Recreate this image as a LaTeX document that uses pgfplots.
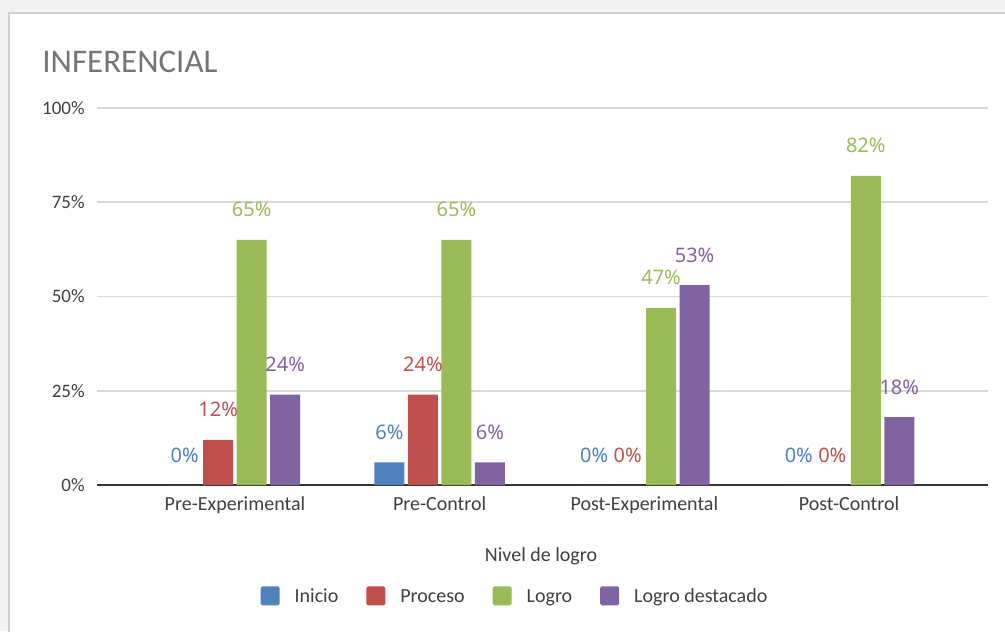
\documentclass[border=0pt]{standalone}
\usepackage{fontspec}
\setmainfont{Carlito}
\newfontfamily\lblfont{Noto Sans}
\usepackage{pgfplots}
\usepackage{pgfplotstable}
\pgfplotsset{compat=1.18}
\definecolor{cInicio}{HTML}{4F81BD}
\definecolor{cProceso}{HTML}{C0504D}
\definecolor{cLogro}{HTML}{9BBB59}
\definecolor{cDest}{HTML}{8064A2}
\definecolor{gridc}{HTML}{D9D9D9}
\definecolor{axisc}{HTML}{333333}
\definecolor{txt}{HTML}{404040}
\definecolor{ttl}{HTML}{757575}
\definecolor{bgc}{HTML}{F2F2F2}
\definecolor{border}{HTML}{D0D0D0}

\pgfplotstableread{
g inicio proceso logro destacado
0 0 12 65 24
1 6 24 65 6
2 0 0 47 53
3 0 0 82 18
}\datatable

\pgfplotsset{sqlegend/.style={legend image code/.code={\fill[##1,/tikz/.cd,draw=none,rounded corners=0.8pt] (0pt,-1.55pt) rectangle (9.5pt,7.95pt);}}}

\begin{document}
\begin{tikzpicture}
\useasboundingbox (0pt,0pt) rectangle (502.5pt,315.5pt);
\fill[bgc] (0pt,0pt) rectangle (502.5pt,315.5pt);
\filldraw[fill=white, draw=border, line width=1pt] (4.5pt,-5pt) rectangle (510pt,309pt);
\node[anchor=base west, inner sep=0pt, font=\fontsize{16.5}{19}\selectfont, text=ttl] at (21pt,279pt) {INFERENCIAL};
\begin{axis}[
  at={(48.5pt,73pt)}, anchor=south west,
  scale only axis, width=445.5pt, height=188.5pt,
  ybar=1.75pt, bar width=15pt,
  xmin=-0.674, xmax=3.679, ymin=0, ymax=100,
  axis x line=bottom, axis y line=left,
  x axis line style={-, draw=axisc, line width=0.8pt},
  y axis line style={draw=none},
  major tick length=0pt,
  xtick={0,1,2,3},
  xticklabels={Pre-Experimental,Pre-Control,Post-Experimental,Post-Control},
  ytick={0,25,50,75,100},
  yticklabels={0\%,25\%,50\%,75\%,100\%},
  ymajorgrids,
  major grid style={draw=gridc, line width=0.9pt},
  xticklabel style={font=\fontsize{10}{12}\selectfont, text=txt, anchor=base, inner sep=0pt, yshift=-12.5pt},
  yticklabel style={font=\fontsize{9.5}{11}\selectfont, text=txt, anchor=east, inner sep=0pt, xshift=-6pt},
  xlabel={Nivel de logro},
  xlabel style={at={(axis description cs:0.4983,0)}, anchor=base, inner sep=0pt, yshift=-38pt, font=\fontsize{10}{12}\selectfont, text=txt},
  clip=false,
  nodes near coords={\pgfmathprintnumber[assume math mode=true,fixed,precision=0]{\pgfplotspointmeta}\%},
  every node near coord/.append style={font=\lblfont\fontsize{10}{12}\selectfont, anchor=base, inner sep=0pt, yshift=11.5pt},
  legend columns=4,
  legend style={at={(0.468,-0.294)}, anchor=center, draw=none, fill=none, inner sep=0pt,
    font=\fontsize{10}{12}\selectfont, text=txt,
    /tikz/every odd column/.append style={column sep=7.5pt},
    /tikz/every even column/.append style={column sep=14pt},
    nodes={inner sep=0pt, anchor=base west}},
]
\addplot[fill=cInicio, draw=none, sqlegend, every node near coord/.append style={text=cInicio}] table[x=g,y=inicio]{\datatable};
\addplot[fill=cProceso, draw=none, sqlegend, every node near coord/.append style={text=cProceso}] table[x=g,y=proceso]{\datatable};
\addplot[fill=cLogro, draw=none, sqlegend, every node near coord/.append style={text=cLogro}] table[x=g,y=logro]{\datatable};
\addplot[fill=cDest, draw=none, sqlegend, every node near coord/.append style={text=cDest}] table[x=g,y=destacado]{\datatable};
\legend{Inicio,Proceso,Logro,Logro destacado}
\end{axis}
\end{tikzpicture}
\end{document}
